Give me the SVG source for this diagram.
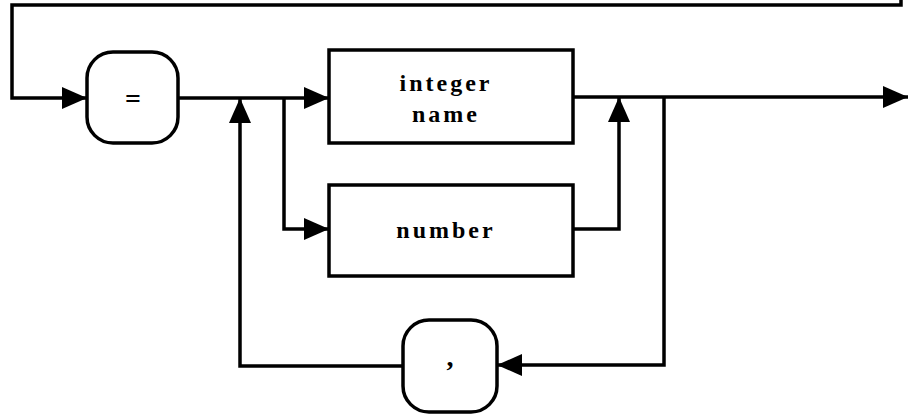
<svg xmlns="http://www.w3.org/2000/svg" width="908" height="415" viewBox="0 0 908 415">
<style>
.ln{fill:none;stroke:#000;stroke-width:3.5;stroke-linejoin:miter}
.bx{fill:#fff;stroke:#000;stroke-width:3.5}
.t{font-family:"Liberation Serif",serif;font-weight:bold;font-size:24px;letter-spacing:3px;text-anchor:middle;fill:#000}
.s{font-family:"Liberation Serif",serif;font-weight:bold;font-size:28px;text-anchor:middle;fill:#000}
</style>
<defs>
<marker id="ah" viewBox="0 0 25 22" refX="25" refY="11" markerWidth="25" markerHeight="22" markerUnits="userSpaceOnUse" orient="auto">
<path d="M0,0 L25,11 L0,22 Z" fill="#000"/>
</marker>
</defs>
<g id="connectors">
<path class="ln" d="M901,0 V5 H12 V98 H87" marker-end="url(#ah)"/>
<path class="ln" d="M178,98 H329" marker-end="url(#ah)"/>
<path class="ln" d="M284,98 V229 H329" marker-end="url(#ah)"/>
<path class="ln" d="M573,97 H908" marker-end="url(#ah)"/>
<path class="ln" d="M573,229 H619 V97" marker-end="url(#ah)"/>
<path class="ln" d="M664,97 V365 H497" marker-end="url(#ah)"/>
<path class="ln" d="M403,366 H240 V98" marker-end="url(#ah)"/>
</g>
<g id="eq">
<rect class="bx" x="87" y="52" width="91" height="91" rx="26"/>
<text class="s" x="133" y="108">=</text>
</g>
<g id="intname">
<rect class="bx" x="329" y="50" width="244" height="93"/>
<text class="t" x="446" y="91">integer</text>
<text class="t" x="446" y="122">name</text>
</g>
<g id="number">
<rect class="bx" x="329" y="185" width="244" height="91"/>
<text class="t" x="446" y="238">number</text>
</g>
<g id="comma">
<rect class="bx" x="403" y="320" width="94" height="92" rx="26"/>
<text class="s" x="450" y="366">,</text>
</g>
</svg>
